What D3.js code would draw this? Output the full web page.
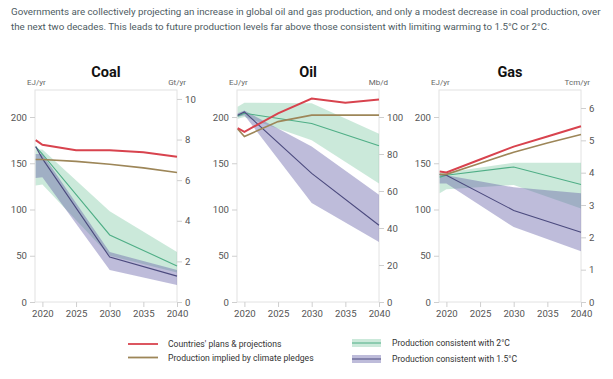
<!DOCTYPE html>
<html><head><meta charset="utf-8">
<script src="https://cdn.jsdelivr.net/npm/d3@7"></script>
<style>
body{margin:0;background:#fff;}
svg{display:block;font-family:Roboto,"Noto Sans",sans-serif;}
</style></head>
<body><svg id="c" width="613" height="379"></svg>
<script>
// ---------- data ----------
const headerLines = [
  "Governments are collectively projecting an increase in global oil and gas production, and only a modest decrease in coal production, over",
  "the next two decades. This leads to future production levels far above those consistent with limiting warming to 1.5°C or 2°C."
];
const fuels = ["Coal", "Oil", "Gas"];
const rightUnits = ["Gt/yr", "Mb/d", "Tcm/yr"];
const rightTicks = [[0,2,4,6,8,10],[0,20,40,60,80,100],[0,1,2,3,4,5,6]];
const rightMax = [10.44, 114.6, 6.557];
const leftTicks = [0, 50, 100, 150, 200];
const xTicks = [2020, 2025, 2030, 2035, 2040];

const planYears = [2019, 2020, 2025, 2030, 2035, 2040];
const plansCoal = [175, 170, 164, 164, 162, 157];
const plansOil  = [188, 184, 204, 220, 215.5, 219];
const plansGas  = [141, 140, 154, 168, 179, 190];
const pledgesCoal = [154, 154, 152, 149, 145, 140];
const pledgesOil  = [187, 179, 195, 202, 202, 202];
const pledgesGas  = [138, 138, 150, 162, 172, 181];

const scenYears = [2019, 2020, 2030, 2040];
const c2MedCoal = [168, 160, 72.5, 39];
const c2LoCoal  = [126, 127, 50, 32];
const c2HiCoal  = [165, 165, 98, 54];
const c15MedCoal = [168, 155, 48.5, 28];
const c15LoCoal  = [134, 135, 34.5, 18.5];
const c15HiCoal  = [160, 160, 54, 34.5];

const c2MedOil = [201, 204, 193, 169];
const c2LoOil  = [198, 200, 175, 128];
const c2HiOil  = [211, 215.5, 215, 182];
const c15MedOil = [202, 205.5, 139, 83];
const c15LoOil  = [200, 202, 107, 65];
const c15HiOil  = [204, 207, 168, 116];

const c2MedGas = [135, 137, 146, 127];
const c2LoGas  = [117.5, 122, 126.5, 101];
const c2HiGas  = [140, 140, 150.5, 150.5];
const c15MedGas = [138, 137, 99, 75.5];
const c15LoGas  = [128, 128, 81, 55];
const c15HiGas  = [138, 137, 124, 117.5];

const legendLines = ["Countries' plans & projections", "Production implied by climate pledges"];
const legendBands = ["Production consistent with 2°C", "Production consistent with 1.5°C"];

// ---------- style ----------
const RED = "#d8434e", BROWN = "#9d8658", GLINE = "#4fae86", PLINE = "#4b4a7e";
const GFILL = "rgba(118,198,158,0.38)", PFILL = "rgba(100,96,168,0.42)";

const svg = d3.select("#c");
const headerG = svg.append("g").attr("fill", "#4d5b62").style("font-size", "10px");
const hTexts = headerLines.map((t, i) => headerG.append("text").attr("x", 11).attr("y", 15 + i * 14.5).text(t));
// fit first line to the reference width (about 591px)
const w0 = hTexts[0].node().getComputedTextLength();
if (w0 > 0) headerG.style("font-size", (10 * 590 / w0).toFixed(2) + "px");

const panelLeft = [35, 237, 439], panelW = 142, plotTop = 90, plotBottom = 302;
const yL = d3.scaleLinear().domain([0, 229.2]).range([plotBottom, plotTop]);

const data = [
  {plans: plansCoal, pledges: pledgesCoal, c2: [c2LoCoal, c2HiCoal, c2MedCoal], c15: [c15LoCoal, c15HiCoal, c15MedCoal]},
  {plans: plansOil, pledges: pledgesOil, c2: [c2LoOil, c2HiOil, c2MedOil], c15: [c15LoOil, c15HiOil, c15MedOil]},
  {plans: plansGas, pledges: pledgesGas, c2: [c2LoGas, c2HiGas, c2MedGas], c15: [c15LoGas, c15HiGas, c15MedGas]}
];

fuels.forEach((name, i) => {
  const x0 = panelLeft[i];
  const x = d3.scaleLinear().domain([2018.9, 2040]).range([x0, x0 + panelW]);
  const yR = d3.scaleLinear().domain([0, rightMax[i]]).range([plotBottom, plotTop]);
  const g = svg.append("g");

  g.append("rect").attr("x", x0).attr("y", plotTop).attr("width", panelW).attr("height", plotBottom - plotTop)
    .attr("fill", "none").attr("stroke", "#e2e2e2").attr("stroke-width", 1);

  const ax = (sel) => {
    sel.select(".domain").remove();
    sel.selectAll("line").attr("stroke", "#cfcfcf");
    sel.selectAll("text").attr("fill", "#555").style("font-size", "9.6px").style("font-family", "Roboto, sans-serif");
  };
  g.append("g").attr("transform", `translate(${x0},0)`)
    .call(d3.axisLeft(yL).tickValues(leftTicks).tickFormat(d3.format("d")).tickSize(5).tickPadding(3)).call(ax);
  g.append("g").attr("transform", `translate(${x0 + panelW},0)`)
    .call(d3.axisRight(yR).tickValues(rightTicks[i]).tickFormat(d3.format("d")).tickSize(5).tickPadding(3)).call(ax);
  g.append("g").attr("transform", `translate(0,${plotBottom})`)
    .call(d3.axisBottom(x).tickValues(xTicks).tickFormat(d3.format("d")).tickSize(5).tickPadding(3)).call(ax);

  g.append("text").attr("x", x0 + panelW / 2).attr("y", 77).attr("text-anchor", "middle")
    .style("font-size", "14.5px").style("font-weight", "bold").attr("fill", "#111").text(name);
  g.append("text").attr("x", x0 - 8).attr("y", 85).style("font-size", "8px").attr("fill", "#666").text("EJ/yr");
  g.append("text").attr("x", x0 + panelW + 9).attr("y", 85).attr("text-anchor", "end")
    .style("font-size", "8px").attr("fill", "#666").text(rightUnits[i]);

  const d = data[i];
  const band = (lo, hi) => d3.area().x((v, k) => x(scenYears[k])).y0((v, k) => yL(lo[k])).y1((v, k) => yL(hi[k]))(lo);
  const line = (yrs) => d3.line().x((v, k) => x(yrs[k])).y(v => yL(v));

  g.append("path").attr("d", band(d.c2[0], d.c2[1])).attr("fill", GFILL);
  g.append("path").attr("d", band(d.c15[0], d.c15[1])).attr("fill", PFILL);
  g.append("path").attr("d", line(scenYears)(d.c2[2])).attr("fill", "none").attr("stroke", GLINE).attr("stroke-width", 1.1);
  g.append("path").attr("d", line(scenYears)(d.c15[2])).attr("fill", "none").attr("stroke", PLINE).attr("stroke-width", 1.1);
  g.append("path").attr("d", line(planYears)(d.pledges)).attr("fill", "none").attr("stroke", BROWN).attr("stroke-width", 1.6);
  g.append("path").attr("d", line(planYears)(d.plans)).attr("fill", "none").attr("stroke", RED).attr("stroke-width", 2);
});

const lg = svg.append("g").style("font-size", "8.6px").attr("fill", "#333");
[RED, BROWN].forEach((c, i) => {
  const y = 344 + i * 13.5;
  lg.append("line").attr("x1", 128).attr("x2", 158).attr("y1", y).attr("y2", y).attr("stroke", c).attr("stroke-width", 1.8);
  lg.append("text").attr("x", 168).attr("y", y + 3).text(legendLines[i]);
});
[[GFILL, GLINE], [PFILL, PLINE]].forEach((c, i) => {
  const y = 343 + i * 16;
  lg.append("rect").attr("x", 352).attr("y", y - 4).attr("width", 29).attr("height", 8).attr("fill", c[0]);
  lg.append("line").attr("x1", 352).attr("x2", 381).attr("y1", y).attr("y2", y).attr("stroke", c[1]).attr("stroke-width", 1);
  lg.append("text").attr("x", 392).attr("y", y + 3).text(legendBands[i]);
});
</script></body></html>
